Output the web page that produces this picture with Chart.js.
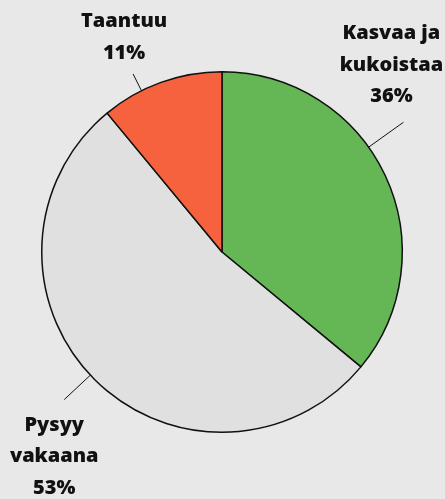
<!DOCTYPE html>
<html>
<head>
<meta charset="utf-8">
<script src="https://cdn.jsdelivr.net/npm/chart.js@4"></script>
<style>
  html, body { margin: 0; padding: 0; background: #e8e8e8; }
  #wrap { width: 445px; height: 499px; }
</style>
</head>
<body>
<div id="wrap"><canvas id="c" width="445" height="499"></canvas></div>
<script>
// Data
const categories = [["Kasvaa ja", "kukoistaa"], ["Pysyy", "vakaana"], ["Taantuu"]];
const values = [36, 53, 11];
const colors = ["#65b756", "#e0e0e0", "#f5623d"];

// Label layout (position along slice as a fraction, leader length, text offsets)
const labelLayout = [
  { frac: 0.42, r2: 223, dx: -12, dy: -20, place: "above" },
  { frac: 0.51, r2: 216, dx: -10, dy: 31, place: "below" },
  { frac: 0.33, r2: 199, dx: -9, dy: -15, place: "above" }
];

const FONT = "800 20px 'Open Sans'";
const LINE_H = 31.5;

const labelPlugin = {
  id: "outerLabels",
  afterDraw(chart) {
    const ctx = chart.ctx;
    const meta = chart.getDatasetMeta(0);
    ctx.save();
    meta.data.forEach((arc, i) => {
      const p = arc.getProps(["x", "y", "startAngle", "endAngle", "outerRadius"], true);
      const L = labelLayout[i];
      const a = p.startAngle + (p.endAngle - p.startAngle) * L.frac;
      const x1 = p.x + Math.cos(a) * p.outerRadius;
      const y1 = p.y + Math.sin(a) * p.outerRadius;
      const x2 = p.x + Math.cos(a) * L.r2;
      const y2 = p.y + Math.sin(a) * L.r2;
      ctx.strokeStyle = "#111";
      ctx.lineWidth = 1;
      ctx.beginPath();
      ctx.moveTo(x1, y1);
      ctx.lineTo(x2, y2);
      ctx.stroke();
      const lines = categories[i].concat([values[i] + "%"]);
      ctx.font = FONT;
      ctx.fillStyle = "#111";
      ctx.textAlign = "center";
      ctx.textBaseline = "alphabetic";
      const tx = x2 + L.dx;
      let firstBase;
      if (L.place === "above") {
        firstBase = y2 + L.dy - (lines.length - 1) * LINE_H;
      } else {
        firstBase = y2 + L.dy;
      }
      lines.forEach((t, k) => ctx.fillText(t, tx, firstBase + k * LINE_H));
    });
    ctx.restore();
  }
};

new Chart(document.getElementById("c"), {
  type: "pie",
  data: {
    labels: categories.map(c => c.join(" ")),
    datasets: [{
      data: values,
      backgroundColor: colors,
      borderColor: "#111",
      borderWidth: 1.5
    }]
  },
  options: {
    responsive: false,
    animation: false,
    layout: { padding: { left: 41, right: 42, top: 71, bottom: 66 } },
    plugins: { legend: { display: false }, tooltip: { enabled: false } }
  },
  plugins: [labelPlugin]
});
</script>
</body>
</html>
